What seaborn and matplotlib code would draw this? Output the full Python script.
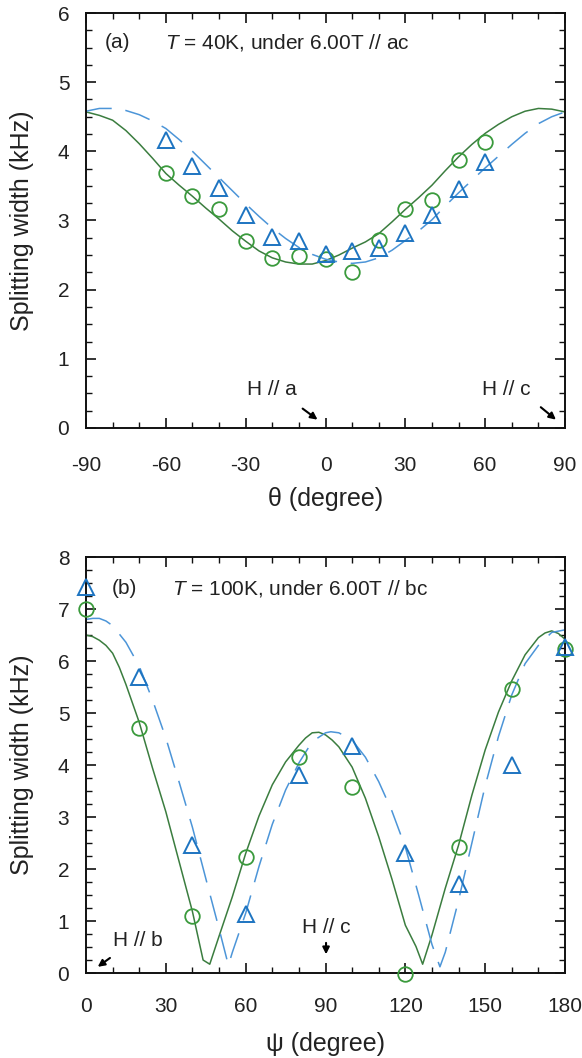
import matplotlib
matplotlib.use("Agg")
import matplotlib.pyplot as plt
from matplotlib.ticker import MultipleLocator
import seaborn as sns

# (a) T = 40K, ac plane
theta_pts = [-60, -50, -40, -30, -20, -10, 0, 10, 20, 30, 40, 50, 60]
circ_a = [3.69, 3.36, 3.17, 2.71, 2.46, 2.48, 2.45, 2.26, 2.72, 3.16, 3.30, 3.88, 4.13]
tri_a = [4.17, 3.79, 3.47, 3.08, 2.76, 2.70, 2.51, 2.56, 2.60, 2.82, 3.08, 3.46, 3.85]

theta_fit = [-90, -85, -80, -75, -70, -65, -60, -55, -50, -45, -40, -35, -30, -25, -20, -15,
             -10, -5, 0, 5, 10, 15, 20, 25, 30, 35, 40, 45, 50, 55, 60, 65, 70, 75, 80, 85, 90]
green_fit_a = [4.57, 4.52, 4.45, 4.30, 4.11, 3.90, 3.68, 3.51, 3.35, 3.18, 3.02, 2.85, 2.70,
               2.56, 2.46, 2.40, 2.37, 2.37, 2.42, 2.50, 2.60, 2.69, 2.81, 2.98, 3.16, 3.33,
               3.51, 3.72, 3.92, 4.10, 4.26, 4.39, 4.50, 4.58, 4.62, 4.61, 4.57]
blue_fit_a = [4.58, 4.62, 4.62, 4.59, 4.53, 4.44, 4.33, 4.17, 4.00, 3.81, 3.62, 3.43, 3.24,
              3.06, 2.89, 2.74, 2.61, 2.51, 2.44, 2.40, 2.38, 2.40, 2.46, 2.57, 2.71, 2.85,
              3.01, 3.21, 3.40, 3.58, 3.76, 3.93, 4.10, 4.26, 4.40, 4.50, 4.57]

# (b) T = 100K, bc plane
psi_pts = [0, 20, 40, 60, 80, 100, 120, 140, 160, 180]
circ_b = [7.00, 4.72, 1.10, 2.24, 4.16, 3.57, -0.02, 2.42, 5.46, 6.24]
tri_b = [7.43, 5.70, 2.47, 1.13, 3.81, 4.37, 2.30, 1.71, 4.00, 6.27]

psi_green = [0, 2.5, 5, 7.5, 10, 12.5, 15, 20, 25, 30, 35, 40, 44, 46.5, 50, 55, 60, 65, 70,
             75, 80, 82.5, 85, 87.5, 90, 92.5, 95, 100, 105, 110, 115, 120, 124, 126.5, 130,
             135, 140, 145, 150, 155, 160, 165, 170, 172.5, 175, 177.5, 180]
green_b = [6.50, 6.47, 6.40, 6.30, 6.15, 5.88, 5.55, 4.82, 3.94, 3.10, 2.14, 1.18, 0.25, 0.17,
           0.71, 1.47, 2.30, 3.02, 3.62, 4.06, 4.38, 4.52, 4.62, 4.63, 4.58, 4.48, 4.35, 3.96,
           3.36, 2.62, 1.80, 0.92, 0.51, 0.17, 0.73, 1.63, 2.46, 3.42, 4.29, 5.02, 5.62, 6.12,
           6.45, 6.54, 6.58, 6.53, 6.42]
psi_blue = [0, 2.5, 5, 7.5, 10, 15, 20, 25, 30, 35, 40, 45, 50, 53.5, 55, 60, 65, 70, 75, 80,
            85, 90, 92, 95, 100, 105, 110, 115, 120, 125, 130, 133, 135, 140, 145, 150, 155,
            160, 165, 170, 175, 180]
blue_b = [6.80, 6.82, 6.82, 6.77, 6.68, 6.36, 5.90, 5.25, 4.52, 3.67, 2.80, 1.82, 0.85, 0.15,
          0.40, 1.15, 2.05, 2.86, 3.52, 4.04, 4.45, 4.62, 4.64, 4.62, 4.48, 4.15, 3.68, 3.11,
          2.42, 1.50, 0.55, 0.12, 0.40, 1.40, 2.50, 3.60, 4.55, 5.35, 5.95, 6.30, 6.55, 6.60]

GREEN_PT = "#3a9a3c"
GREEN_LN = "#3b7d3f"
BLUE_PT = "#1d74c1"
BLUE_LN = "#4c95d8"
TXT = "#222222"

sns.set_style("ticks")
plt.rcParams["font.family"] = ["Liberation Sans", "DejaVu Sans"]
plt.rcParams["mathtext.fontset"] = "custom"
plt.rcParams["mathtext.it"] = "Liberation Sans:italic"
plt.rcParams["mathtext.rm"] = "Liberation Sans"
plt.rcParams["axes.unicode_minus"] = False

fig = plt.figure(figsize=(5.82, 10.58), dpi=100)
ax1 = fig.add_axes([0.1478, 0.5955, 0.823, 0.3922])
ax2 = fig.add_axes([0.1478, 0.0803, 0.823, 0.3932])


def draw_panel(ax, xf_g, yf_g, xf_b, yf_b, xp, yc, yt):
    sns.lineplot(x=xf_g, y=yf_g, ax=ax, color=GREEN_LN, linewidth=1.1, errorbar=None, sort=False)
    sns.lineplot(x=xf_b, y=yf_b, ax=ax, color=BLUE_LN, linewidth=1.1, errorbar=None, sort=False)
    ax.lines[-1].set_dashes([17, 9])
    sns.lineplot(x=xp, y=yc, ax=ax, errorbar=None, marker="o", linestyle="none",
                 markersize=10.5, markerfacecolor="none", markeredgecolor=GREEN_PT,
                 markeredgewidth=1.3, color=GREEN_PT, clip_on=False, zorder=4)
    sns.lineplot(x=xp, y=yt, ax=ax, errorbar=None, marker="^", linestyle="none",
                 markersize=11, markerfacecolor="none", markeredgecolor=BLUE_PT,
                 markeredgewidth=1.4, color=BLUE_PT, clip_on=False, zorder=4)


def style_axes(ax, xpad):
    for s in ax.spines.values():
        s.set_linewidth(1.4)
        s.set_color("#111111")
    ax.xaxis.set_major_locator(MultipleLocator(30))
    ax.xaxis.set_minor_locator(MultipleLocator(10))
    ax.yaxis.set_major_locator(MultipleLocator(1))
    ax.yaxis.set_minor_locator(MultipleLocator(0.25))
    ax.tick_params(which="both", direction="in", top=True, right=True, colors="#111111",
                   labelcolor=TXT, labelsize=15)
    ax.tick_params(which="major", length=7, width=1.2)
    ax.tick_params(which="minor", length=4, width=1.0)
    ax.tick_params(axis="x", which="major", pad=xpad)
    ax.tick_params(axis="y", which="major", pad=12)
    ax.set_ylabel("Splitting width (kHz)", fontsize=18, color=TXT)
    ax.yaxis.set_label_coords(-0.134, 0.5)
    ax.yaxis.label.set_va("center")
    ax.xaxis.label.set_va("center")
    ax.xaxis.set_label_coords(0.5, -0.17)


draw_panel(ax1, theta_fit, green_fit_a, theta_fit, blue_fit_a, theta_pts, circ_a, tri_a)
ax1.set_xlim(-90, 90)
ax1.set_ylim(0, 6)
ax1.set_xlabel("θ (degree)", fontsize=18, color=TXT)
style_axes(ax1, 20)
ax1.text(0.040, 0.928, "(a)", transform=ax1.transAxes, fontsize=15, color=TXT, va="center")
ax1.text(0.165, 0.928, "$T$ = 40K, under 6.00T // ac", transform=ax1.transAxes,
         fontsize=15, color=TXT, va="center")
ax1.text(-20, 0.55, "H // a", fontsize=15, color=TXT, ha="center", va="center")
ax1.text(67.8, 0.55, "H // c", fontsize=15, color=TXT, ha="center", va="center")
arrow = dict(arrowstyle="-|>", color="black", lw=1.5, mutation_scale=10, shrinkA=0, shrinkB=0)
ax1.annotate("", xy=(-3.0, 0.12), xytext=(-8.6, 0.28), arrowprops=arrow)
ax1.annotate("", xy=(86.6, 0.12), xytext=(80.9, 0.30), arrowprops=arrow)

draw_panel(ax2, psi_green, green_b, psi_blue, blue_b, psi_pts, circ_b, tri_b)
ax2.set_xlim(0, 180)
ax2.set_ylim(0, 8)
ax2.set_xlabel("ψ (degree)", fontsize=18, color=TXT)
style_axes(ax2, 17)
ax2.text(0.054, 0.925, "(b)", transform=ax2.transAxes, fontsize=15, color=TXT, va="center")
ax2.text(0.18, 0.925, "$T$ = 100K, under 6.00T // bc", transform=ax2.transAxes,
         fontsize=15, color=TXT, va="center")
ax2.text(19.6, 0.63, "H // b", fontsize=15, color=TXT, ha="center", va="center")
ax2.text(90.4, 0.88, "H // c", fontsize=15, color=TXT, ha="center", va="center")
ax2.annotate("", xy=(4.4, 0.12), xytext=(9.0, 0.29), arrowprops=arrow)
ax2.annotate("", xy=(90.2, 0.36), xytext=(90.2, 0.58), arrowprops=arrow)

fig.savefig("out.png", dpi=100)
